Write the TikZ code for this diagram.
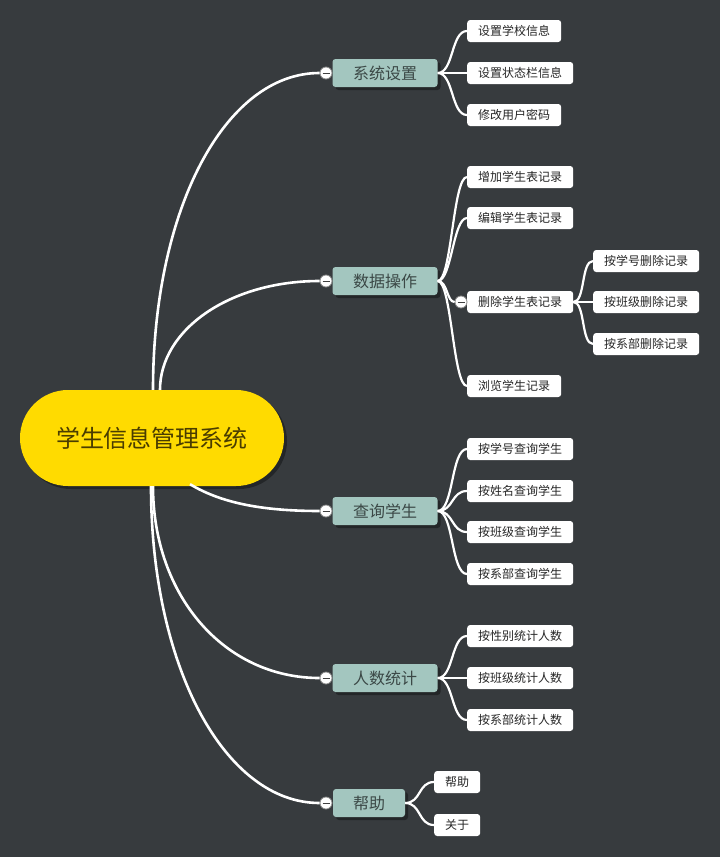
\documentclass[tikz,border=0pt]{standalone}
\usepackage{fontspec}
\setmainfont{Noto Sans CJK SC}
\usetikzlibrary{shadows}
\definecolor{MapBg}{HTML}{373B3E}
\definecolor{RootYellow}{HTML}{FFDB00}
\definecolor{RootText}{HTML}{4A3D00}
\definecolor{TopicGreen}{HTML}{A3C6BF}
\definecolor{TopicText}{HTML}{3B4846}

\begin{document}
\begin{tikzpicture}[
    x=1pt,y=1pt,
    root/.style={fill=RootYellow,rounded corners=48pt,minimum width=264pt,minimum height=96pt,text=RootText,font=\fontsize{24}{28}\selectfont,
      drop shadow={shadow xshift=3pt,shadow yshift=-3pt,fill=black,opacity=0.35}},
    topic/.style={fill=TopicGreen,rounded corners=3pt,minimum height=28pt,minimum width=105pt,text=TopicText,font=\fontsize{16}{19}\selectfont,
      drop shadow={shadow xshift=3pt,shadow yshift=-3pt,fill=black,opacity=0.35}},
    leaf/.style={fill=white,rounded corners=3pt,minimum height=22pt,inner xsep=11pt,inner ysep=0pt,text=black!85,font=\fontsize{12}{14}\selectfont,anchor=west},
    toggle/.style={circle,fill=white,draw=black!45,line width=0.8pt,minimum size=12pt,inner sep=0pt,
      path picture={\draw[black!75,line width=0.9pt] ([xshift=-3.5pt]path picture bounding box.center) -- ([xshift=3.5pt]path picture bounding box.center);}},
    link/.style={draw=white,line width=2.6pt},
    twig/.style={draw=white,line width=2.2pt}
  ]
    \fill[MapBg] (0,0) rectangle (720,-857);
    \useasboundingbox (0,0) rectangle (720,-857);

    % centre
    \node[root] (sys) at (152,-438) {学生信息管理系统};

    % main topics
    \node[topic] (setup) at (385,-73) {系统设置};
    \node[topic] (data) at (385,-281) {数据操作};
    \node[topic] (query) at (385,-511) {查询学生};
    \node[topic] (count) at (385,-678) {人数统计};
    \node[topic,minimum width=72pt] (help) at (369,-803) {帮助};
    \node[toggle] (tsetup) at (326,-73) {};
    \node[toggle] (tdata) at (326,-281) {};
    \node[toggle] (tquery) at (326,-511) {};
    \node[toggle] (tcount) at (326,-678) {};
    \node[toggle] (thelp) at (326,-803) {};

    % leaves
    \node[leaf] (school) at (467,-31) {设置学校信息};
    \node[leaf] (status) at (467,-73) {设置状态栏信息};
    \node[leaf] (passwd) at (467,-115) {修改用户密码};
    \node[leaf] (add) at (467,-177) {增加学生表记录};
    \node[leaf] (edit) at (467,-218) {编辑学生表记录};
    \node[leaf] (del) at (467,-302) {删除学生表记录};
    \node[toggle] (tdel) at (461,-302) {};
    \node[leaf] (browse) at (467,-386) {浏览学生记录};
    \node[leaf] (delno) at (593,-261) {按学号删除记录};
    \node[leaf] (delclass) at (593,-302) {按班级删除记录};
    \node[leaf] (deldept) at (593,-344) {按系部删除记录};
    \node[leaf] (qno) at (467,-449) {按学号查询学生};
    \node[leaf] (qname) at (467,-491) {按姓名查询学生};
    \node[leaf] (qclass) at (467,-532) {按班级查询学生};
    \node[leaf] (qdept) at (467,-574) {按系部查询学生};
    \node[leaf] (csex) at (467,-636) {按性别统计人数};
    \node[leaf] (cclass) at (467,-678) {按班级统计人数};
    \node[leaf] (cdept) at (467,-720) {按系部统计人数};
    \node[leaf] (hhelp) at (434,-782) {帮助};
    \node[leaf] (habout) at (434,-825) {关于};

    % centre to topics
    \draw[link] ([xshift=1pt]sys.north) .. controls +(0,180) and +(-95,0) .. (tsetup.west);
    \draw[link] ([xshift=8pt]sys.north) .. controls +(0,60) and +(-90,0) .. (tdata.west);
    \draw[link] ([xshift=38pt,yshift=2pt]sys.south) .. controls +(30,-18) and +(-60,0) .. (tquery.west);
    \draw[link] ([xshift=1pt]sys.south) .. controls +(0,-110) and +(-95,0) .. (tcount.west);
    \draw[link] ([xshift=-1pt]sys.south) .. controls +(0,-180) and +(-95,0) .. (thelp.west);

    % topics to leaves
    \draw[twig] (setup.east) .. controls +(16,0) and +(-16,0) .. (school.west);
    \draw[twig] (setup.east) -- (status.west);
    \draw[twig] (setup.east) .. controls +(16,0) and +(-16,0) .. (passwd.west);
    \draw[twig] (data.east) .. controls +(14,0) and +(-14,0) .. (add.west);
    \draw[twig] (data.east) .. controls +(14,0) and +(-14,0) .. (edit.west);
    \draw[twig] (data.east) .. controls +(10,0) and +(-8,0) .. (tdel.west);
    \draw[twig] (data.east) .. controls +(14,0) and +(-14,0) .. (browse.west);
    \draw[twig] (del.east) .. controls +(12,0) and +(-12,0) .. (delno.west);
    \draw[twig] (del.east) -- (delclass.west);
    \draw[twig] (del.east) .. controls +(12,0) and +(-12,0) .. (deldept.west);
    \draw[twig] (query.east) .. controls +(16,0) and +(-16,0) .. (qno.west);
    \draw[twig] (query.east) .. controls +(16,0) and +(-16,0) .. (qname.west);
    \draw[twig] (query.east) .. controls +(16,0) and +(-16,0) .. (qclass.west);
    \draw[twig] (query.east) .. controls +(16,0) and +(-16,0) .. (qdept.west);
    \draw[twig] (count.east) .. controls +(16,0) and +(-16,0) .. (csex.west);
    \draw[twig] (count.east) -- (cclass.west);
    \draw[twig] (count.east) .. controls +(16,0) and +(-16,0) .. (cdept.west);
    \draw[twig] (help.east) .. controls +(16,0) and +(-16,0) .. (hhelp.west);
    \draw[twig] (help.east) .. controls +(16,0) and +(-16,0) .. (habout.west);
  \end{tikzpicture}
\end{document}
